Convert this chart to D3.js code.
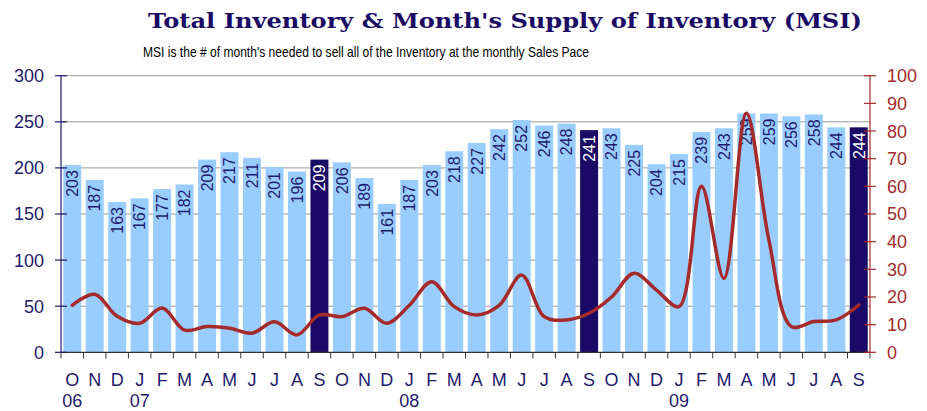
<!DOCTYPE html>
<html lang="en">
<head>
<meta charset="utf-8">
<title>Total Inventory & MSI</title>
<script src="https://d3js.org/d3.v7.min.js"></script>
<style>
  body { margin: 0; background: #fff; }
  text { font-family: "Liberation Sans", Arial, sans-serif; }
</style>
</head>
<body>
<script>
// data
var months = ["O","N","D","J","F","M","A","M","J","J","A","S",
              "O","N","D","J","F","M","A","M","J","J","A","S",
              "O","N","D","J","F","M","A","M","J","J","A","S"];
var years = [{i: 0, label: "06"}, {i: 3, label: "07"}, {i: 15, label: "08"}, {i: 27, label: "09"}];
var inventory = [203,187,163,167,177,182,209,217,211,201,196,209,
                 206,189,161,187,203,218,227,242,252,246,248,241,
                 243,225,204,215,239,243,259,259,256,258,244,244];
var msi = [17,21,13,10.5,16,8,9.3,8.7,6.9,11,6.3,13.5,
           12.9,15.9,10.5,17,25.5,16.5,13.5,17,27.9,12.9,11.7,14.1,
           20,28.6,22.5,16.5,60,26.7,86.4,40.6,9.3,11.1,11.7,17.1];
var highlight = [11, 23, 35]; // September bars
var leftTicks = [0,50,100,150,200,250,300];
var rightTicks = [0,10,20,30,40,50,60,70,80,90,100];

var W = 927, H = 411;
var plot = {left: 61, right: 870, top: 75.7, bottom: 352.3};
var navy = "#1a0a66", lightBar = "#99ccff", red = "#a52a2a", textNavy = "#1f1a6e";

var svg = d3.select("body").append("svg")
    .attr("width", W).attr("height", H);

var x = d3.scaleBand()
    .domain(d3.range(months.length))
    .range([plot.left, plot.right])
    .paddingInner(0.2)
    .paddingOuter(0.1);

var yL = d3.scaleLinear().domain([0, 300]).range([plot.bottom, plot.top]);
var yR = d3.scaleLinear().domain([0, 100]).range([plot.bottom, plot.top]);

// title
svg.append("text")
    .attr("x", 148).attr("y", 28)
    .attr("textLength", 714).attr("lengthAdjust", "spacingAndGlyphs")
    .style("font-family", "'DejaVu Serif', Georgia, serif")
    .style("font-weight", "bold")
    .style("font-size", "20px")
    .attr("fill", navy)
    .text("Total Inventory & Month's Supply of Inventory (MSI)");

svg.append("text")
    .attr("x", 143).attr("y", 57)
    .attr("textLength", 446).attr("lengthAdjust", "spacingAndGlyphs")
    .style("font-size", "15px")
    .attr("fill", "#000")
    .text("MSI is the # of month's needed to sell all of the Inventory at the monthly Sales Pace");

// gridlines
svg.append("g").selectAll("line")
    .data(leftTicks.filter(function (d) { return d > 0; }))
    .enter().append("line")
    .attr("x1", plot.left).attr("x2", plot.right)
    .attr("y1", function (d) { return yL(d); })
    .attr("y2", function (d) { return yL(d); })
    .attr("stroke", "#999").attr("stroke-width", 1);

// bars
svg.append("g").selectAll("rect")
    .data(inventory)
    .enter().append("rect")
    .attr("x", function (d, i) { return x(i); })
    .attr("y", function (d) { return yL(d); })
    .attr("width", x.bandwidth())
    .attr("height", function (d) { return yL(0) - yL(d); })
    .attr("fill", function (d, i) { return highlight.indexOf(i) >= 0 ? navy : lightBar; });

// bar labels
svg.append("g").selectAll("text")
    .data(inventory)
    .enter().append("text")
    .attr("transform", function (d, i) {
        return "translate(" + (x(i) + x.bandwidth() / 2) + "," + (yL(d) + 5) + ") rotate(-90)";
    })
    .attr("text-anchor", "end")
    .attr("dy", "0.36em")
    .style("font-size", "16px")
    .attr("fill", function (d, i) { return highlight.indexOf(i) >= 0 ? "#fff" : textNavy; })
    .text(function (d) { return d; });

// MSI line
var line = d3.line()
    .x(function (d, i) { return x(i) + x.bandwidth() / 2; })
    .y(function (d) { return yR(d); })
    .curve(d3.curveCatmullRom.alpha(0.5));

svg.append("path")
    .datum(msi)
    .attr("d", line)
    .attr("fill", "none")
    .attr("stroke", red)
    .attr("stroke-width", 3.5)
    .attr("stroke-linecap", "round");

// x axis
svg.append("line")
    .attr("x1", plot.left).attr("x2", plot.right)
    .attr("y1", plot.bottom).attr("y2", plot.bottom)
    .attr("stroke", "#333").attr("stroke-width", 1.2);

svg.append("g").selectAll("line")
    .data(d3.range(months.length + 1))
    .enter().append("line")
    .attr("x1", function (d) { return plot.left + d * x.step(); })
    .attr("x2", function (d) { return plot.left + d * x.step(); })
    .attr("y1", plot.bottom).attr("y2", plot.bottom + 6)
    .attr("stroke", "#333").attr("stroke-width", 1);

svg.append("g").selectAll("text")
    .data(months)
    .enter().append("text")
    .attr("x", function (d, i) { return x(i) + x.bandwidth() / 2; })
    .attr("y", 386)
    .attr("text-anchor", "middle")
    .style("font-size", "18px")
    .attr("fill", textNavy)
    .text(function (d) { return d; });

svg.append("g").selectAll("text")
    .data(years)
    .enter().append("text")
    .attr("x", function (d) { return x(d.i) + x.bandwidth() / 2; })
    .attr("y", 407)
    .attr("text-anchor", "middle")
    .style("font-size", "18px")
    .attr("fill", textNavy)
    .text(function (d) { return d.label; });

// left axis
var gL = svg.append("g");
gL.append("line")
    .attr("x1", plot.left).attr("x2", plot.left)
    .attr("y1", plot.top).attr("y2", plot.bottom)
    .attr("stroke", textNavy).attr("stroke-width", 1.2);
gL.selectAll(".tick")
    .data(leftTicks).enter().append("line")
    .attr("x1", plot.left - 6).attr("x2", plot.left + 6)
    .attr("y1", function (d) { return yL(d); })
    .attr("y2", function (d) { return yL(d); })
    .attr("stroke", textNavy).attr("stroke-width", 1.2);
gL.selectAll("text")
    .data(leftTicks).enter().append("text")
    .attr("x", 44)
    .attr("y", function (d) { return yL(d); })
    .attr("dy", "0.36em")
    .attr("text-anchor", "end")
    .style("font-size", "18px")
    .attr("fill", textNavy)
    .text(function (d) { return d; });

// right axis
var gR = svg.append("g");
gR.append("line")
    .attr("x1", plot.right).attr("x2", plot.right)
    .attr("y1", plot.top).attr("y2", plot.bottom)
    .attr("stroke", red).attr("stroke-width", 1.2);
gR.selectAll(".tick")
    .data(rightTicks).enter().append("line")
    .attr("x1", plot.right - 6).attr("x2", plot.right + 6)
    .attr("y1", function (d) { return yR(d); })
    .attr("y2", function (d) { return yR(d); })
    .attr("stroke", red).attr("stroke-width", 1.2);
gR.selectAll("text")
    .data(rightTicks).enter().append("text")
    .attr("x", 887)
    .attr("y", function (d) { return yR(d); })
    .attr("dy", "0.36em")
    .style("font-size", "18px")
    .attr("fill", red)
    .text(function (d) { return d; });
</script>
</body>
</html>
